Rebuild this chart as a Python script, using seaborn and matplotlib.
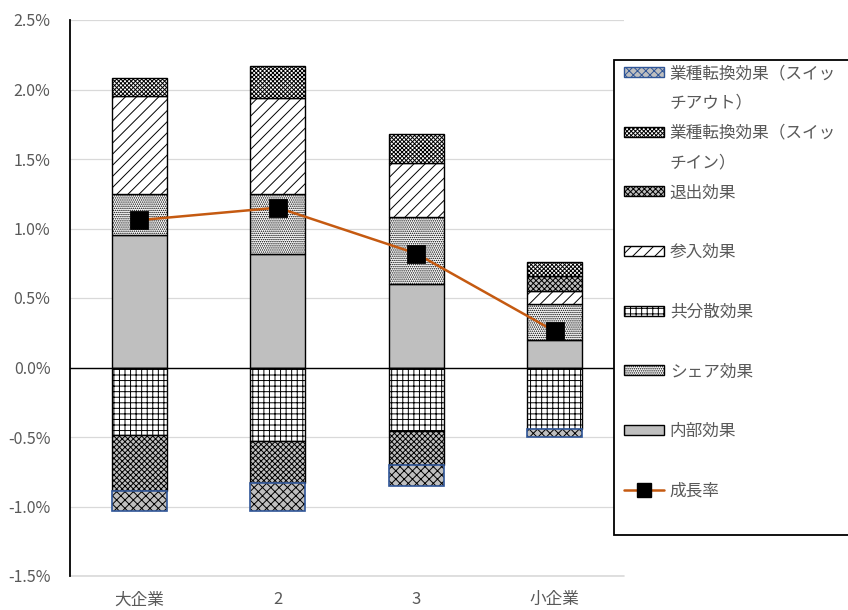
import numpy as np
import matplotlib
matplotlib.use("Agg")
import matplotlib.pyplot as plt
import seaborn as sns
from matplotlib.patches import Patch, Rectangle
from matplotlib.lines import Line2D

# ---- data (percent) ----
categories = ["大企業", "2", "3", "小企業"]
inner = [0.95, 0.82, 0.60, 0.20]          # 内部効果
share = [0.30, 0.43, 0.48, 0.26]          # シェア効果
cov = [-0.485, -0.53, -0.46, -0.44]       # 共分散効果
entry = [0.70, 0.69, 0.39, 0.09]          # 参入効果
exit_ = [-0.405, -0.30, -0.245, 0.107]    # 退出効果
switch_in = [0.13, 0.23, 0.21, 0.10]      # 業種転換効果（スイッチイン）
switch_out = [-0.14, -0.20, -0.15, -0.06] # 業種転換効果（スイッチアウト）
growth = [1.06, 1.15, 0.82, 0.26]         # 成長率
yticks = [-1.5, -1.0, -0.5, 0.0, 0.5, 1.0, 1.5, 2.0, 2.5]

sns.set_theme(style="white")
plt.rcParams["font.family"] = ["Noto Sans CJK JP", "DejaVu Sans"]
plt.rcParams["hatch.linewidth"] = 0.7

TXT = "#595959"
GREY = "#bfbfbf"
BLUE = "#2F5597"
GRID = "#d9d9d9"

series = [
    ("inner", inner, dict(color=GREY, hatch=None, edgecolor="black")),
    ("share", share, dict(color="white", hatch="........", edgecolor="black")),
    ("cov", cov, dict(color="white", hatch="+++", edgecolor="black")),
    ("entry", entry, dict(color="white", hatch="///", edgecolor="black")),
    ("exit", exit_, dict(color=GREY, hatch="xxxxxx", edgecolor="black")),
    ("sin", switch_in, dict(color="white", hatch="xxxxxxxx", edgecolor="black")),
    ("sout", switch_out, dict(color=GREY, hatch="xxxx", edgecolor="black")),
]

fig = plt.figure(figsize=(8.48, 6.10), dpi=100)
ax = fig.add_axes([70 / 848, 1 - 576 / 610, 554 / 848, 556 / 610])

pos = np.zeros(len(categories))
neg = np.zeros(len(categories))
for name, vals, st in series:
    v = np.array(vals, dtype=float)
    bottom = np.where(v >= 0, pos, neg)
    kw = dict(x=categories, y=v, bottom=bottom, width=0.4, errorbar=None,
              saturation=1, ax=ax, color=st["color"], edgecolor=st["edgecolor"],
              linewidth=1.0 if name != "sout" else 0)
    if st["hatch"]:
        kw["hatch"] = st["hatch"]
    sns.barplot(**kw)
    if name == "sout":
        sns.barplot(x=categories, y=v, bottom=bottom, width=0.4, errorbar=None,
                    saturation=1, ax=ax, color=BLUE, fill=False,
                    edgecolor=BLUE, linewidth=1.2)
    pos = pos + np.where(v >= 0, v, 0)
    neg = neg + np.where(v < 0, v, 0)

sns.pointplot(x=categories, y=growth, errorbar=None, color="#C55A11",
              markers="none", linewidth=1.8, ax=ax)
sns.pointplot(x=categories, y=growth, errorbar=None, color="black",
              markers="s", linestyles="none", markersize=12, ax=ax)

ax.set_ylim(yticks[0], yticks[-1])
ax.set_xlim(-0.5, 3.5)
ax.set_yticks(yticks)
ax.set_yticklabels([f"{t:.1f}%" for t in yticks])
ax.yaxis.grid(True, color=GRID, linewidth=0.9)
ax.axhline(yticks[0], color=GRID, linewidth=1.2, clip_on=False, zorder=0.5)
ax.set_axisbelow(True)
ax.axhline(0, color="black", linewidth=1.0, zorder=1.5)
for s in ["top", "right", "bottom"]:
    ax.spines[s].set_visible(False)
ax.spines["left"].set_color("black")
ax.spines["left"].set_linewidth(1.3)
ax.tick_params(axis="y", length=0, pad=14, labelsize=11.5, labelcolor=TXT)
ax.tick_params(axis="x", length=0, pad=11, labelsize=12, labelcolor=TXT)
ax.set_xlabel("")
ax.set_ylabel("")

# ---- legend ----
def ph(st, edge=None):
    return Patch(facecolor=st["color"], edgecolor=edge or "black",
                 hatch=st["hatch"], linewidth=1.0)

blank = Patch(facecolor="none", edgecolor="none")
sd = {n: st for n, _, st in series}
handles = [
    ph(sd["sout"], BLUE), blank,
    ph(sd["sin"]), blank,
    ph(sd["exit"]), blank,
    ph(sd["entry"]), blank,
    ph(sd["cov"]), blank,
    ph(sd["share"]), blank,
    ph(sd["inner"]), blank,
    Line2D([], [], color="#C55A11", linewidth=1.8, marker="s", markersize=10,
           markerfacecolor="black", markeredgecolor="black"),
]
labels = [
    "業種転換効果（スイッ", "チアウト）",
    "業種転換効果（スイッ", "チイン）",
    "退出効果", " ",
    "参入効果", " ",
    "共分散効果", " ",
    "シェア効果", " ",
    "内部効果", " ",
    "成長率",
]

fig.add_artist(Rectangle((614 / 848, 1 - 535 / 610), 300 / 848, 475 / 610,
                         transform=fig.transFigure, facecolor="white",
                         edgecolor="black", linewidth=1.3, zorder=3))
leg = fig.legend(handles, labels, loc="upper left",
                 bbox_to_anchor=(624 / 848, 1 - 65 / 610), frameon=False,
                 borderpad=0, borderaxespad=0, fontsize=12,
                 handlelength=2.4, handleheight=0.55, handletextpad=0.35,
                 labelspacing=0.77, labelcolor=TXT)
leg.set_zorder(5)

fig.savefig("out.png", dpi=100)
